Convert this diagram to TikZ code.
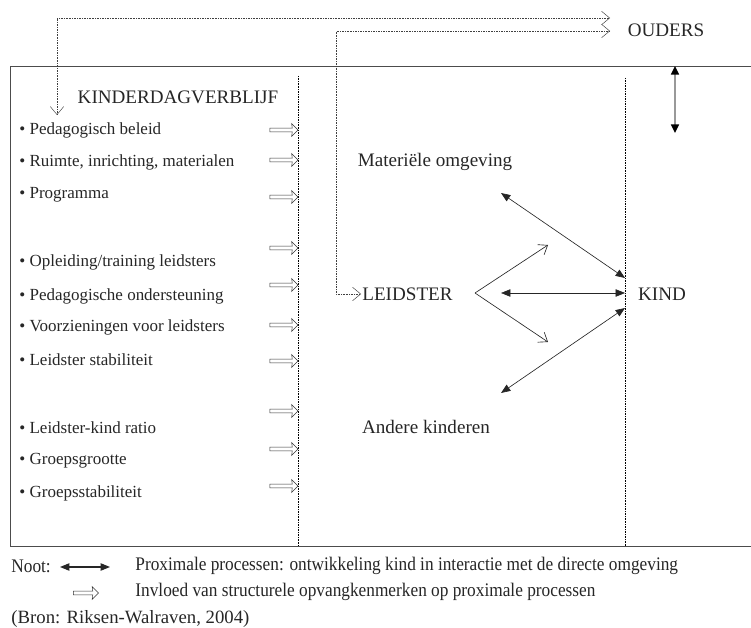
\documentclass[tikz,border=0pt]{standalone}
\usepackage{fontspec}
\setmainfont{Liberation Serif}
\newfontfamily\notefont[FakeStretch=0.9]{Liberation Serif}
\usetikzlibrary{arrows.meta,shapes.arrows,positioning}

\begin{document}
\begin{tikzpicture}[x=0.03cm, y=-0.03cm,
    every node/.style={font=\fontsize{16.3}{18}\selectfont, text=black!85, inner sep=1pt},
    item/.style={anchor=west, font=\fontsize{14.5}{17}\selectfont},
    hollow/.style={single arrow, draw=black!80, thin, minimum height=0.84cm, minimum width=0.38cm,
      single arrow head extend=0.11cm, single arrow head indent=0.02cm, inner sep=0.4mm},
    proc/.style={line width=0.55pt, black!85, {Triangle[length=2.8mm,width=2.2mm]}-{Triangle[length=2.8mm,width=2.2mm]}},
    barb/.style={line width=0.55pt, black!85, -{Straight Barb[length=2.4mm,width=3.6mm]}},
    dotline/.style={densely dotted, thin, black!75},
    note/.style={font=\notefont\fontsize{16.4}{18}\selectfont, anchor=west}]
  \useasboundingbox (0,0) rectangle (751,628);

  % box and columns
  \draw[line width=0.8pt, black!70] (751,66) -- (10,66) -- (10,546) -- (751,546);
  \draw[dotline, black] (298,76) -- (298,546);
  \draw[dotline, black] (625,78) -- (625,546);

  % labels
  \node (ouders) at (666,30) {OUDERS};
  \node (kdv) at (178,97) {KINDERDAGVERBLIJF};
  \node (materieel) at (435,162) {Materiële omgeving};
  \node[anchor=west] (leidster) at (361,294) {LEIDSTER};
  \node (kind) at (662,294) {KIND};
  \node (anderen) at (426,427) {Andere kinderen};

  % structural characteristics
  \node[item] (i1) at (18,130) {• Pedagogisch beleid};
  \node[item] (i2) at (18,162) {• Ruimte, inrichting, materialen};
  \node[item] (i3) at (18,195) {• Programma};
  \node[item] (i4) at (18,262) {• Opleiding/training leidsters};
  \node[item] (i5) at (18,296) {• Pedagogische ondersteuning};
  \node[item] (i6) at (18,327) {• Voorzieningen voor leidsters};
  \node[item] (i7) at (18,360) {• Leidster stabiliteit};
  \node[item] (i8) at (18,428) {• Leidster-kind ratio};
  \node[item] (i9) at (18,461) {• Groepsgrootte};
  \node[item] (i10) at (18,493) {• Groepsstabiliteit};

  \node[hollow] (h1) at (283,130) {};
  \node[hollow] (h2) at (283,160) {};
  \node[hollow] (h3) at (283,197) {};
  \node[hollow] (h4) at (283,248) {};
  \node[hollow] (h5) at (283,285) {};
  \node[hollow] (h6) at (283,325) {};
  \node[hollow] (h7) at (283,361) {};
  \node[hollow] (h8) at (283,411) {};
  \node[hollow] (h9) at (283,449) {};
  \node[hollow] (h10) at (283,486) {};

  % parents
  \coordinate (o1) at (610,18);
  \coordinate (o2) at (610,31);
  \coordinate (k1) at (57,115);
  \draw[dotline, {Straight Barb[length=2.4mm,width=4mm]}-{Straight Barb[length=2.4mm,width=4mm]}]
    (k1) -- (57,18) -- (o1);
  \draw[dotline, {Straight Barb[length=2.4mm,width=4mm]}-{Straight Barb[length=2.4mm,width=4mm]}]
    (o2) -- (336,31) -- (336,294) -- (leidster.west);
  \draw[line width=1.4pt, black!40, {Triangle[length=2.6mm,width=2.4mm,color=black]}-{Triangle[length=2.6mm,width=2.4mm,color=black]}]
    (675,66) -- (675,133);

  % proximal processes
  \coordinate (mo) at (501,193);
  \coordinate (ak) at (501,393);
  \coordinate (lk) at (501,293);
  \coordinate (k2) at (625,278);
  \coordinate (k3) at (625,293);
  \coordinate (k4) at (625,308);
  \coordinate (v) at (475,293);
  \draw[proc] (mo) -- (k2);
  \draw[proc] (lk) -- (k3);
  \draw[proc] (ak) -- (k4);
  \draw[barb] (v) -- (548,245);
  \draw[barb] (v) -- (548,342);

  % legend
  \node[note] (noot) at (10,566) {Noot:};
  \draw[proc, line width=1pt] (60,567) -- (110,567);
  \node[note] (prox) at (134,566) {Proximale processen: ontwikkeling kind in interactie met de directe omgeving};
  \node[hollow, minimum height=0.75cm] (hl) at (85,593) {};
  \node[note] (invloed) at (134,592) {Invloed van structurele opvangkenmerken op proximale processen};
  \node[anchor=west, font=\fontsize{16}{18}\selectfont] (bron) at (10,619) {(Bron: Riksen-Walraven, 2004)};
\end{tikzpicture}
\end{document}
